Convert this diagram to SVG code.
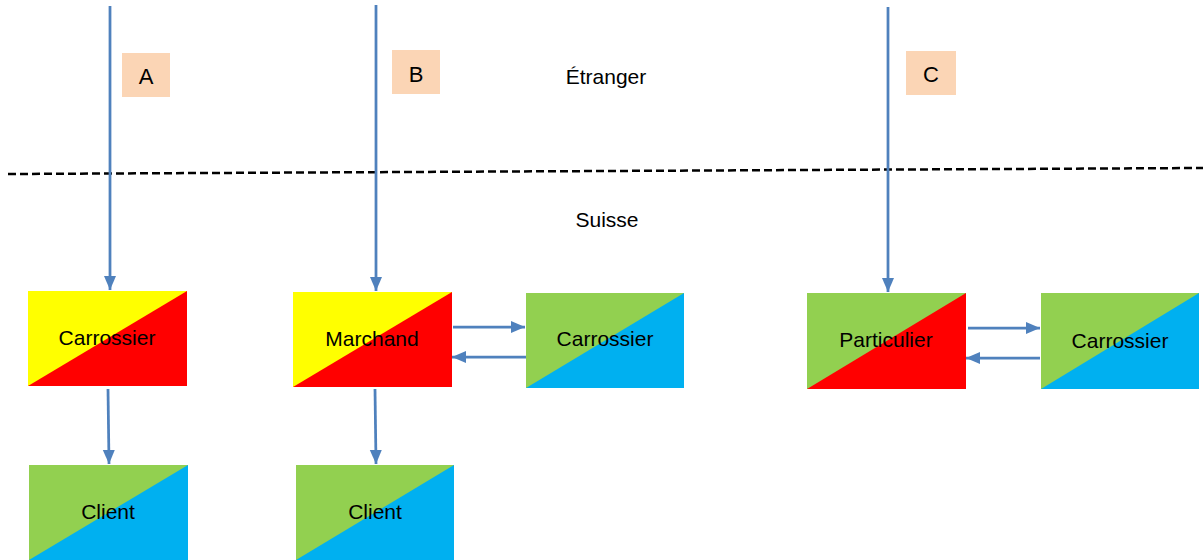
<svg xmlns="http://www.w3.org/2000/svg" width="1203" height="560" viewBox="0 0 1203 560">
<style>
.t{font-family:"Liberation Sans",Arial,sans-serif;font-size:21px;fill:#000;text-anchor:middle}
.lbl{font-family:"Liberation Sans",Arial,sans-serif;font-size:22px;fill:#000;text-anchor:middle}
.c{stroke:#4F81BD;stroke-width:2.75;fill:none}
.y{fill:#FFFF00}.r{fill:#FF0000}.g{fill:#92D050}.b{fill:#00B0F0}.p{fill:#FBD5B5}
</style>
<defs>
<marker id="ah" markerUnits="userSpaceOnUse" markerWidth="15" markerHeight="13" refX="14" refY="6.5" orient="auto">
<path d="M0,0.5 L14,6.5 L0,12.5 z" fill="#4F81BD"/>
</marker>
</defs>
<rect width="1203" height="560" fill="#fff"/>
<line x1="8" y1="174" x2="1203" y2="168" stroke="#000" stroke-width="2.5" stroke-dasharray="8,4"/>
<text class="t" x="606" y="84">Étranger</text>
<text class="t" x="607" y="227">Suisse</text>
<g id="labelA"><rect class="p" x="122" y="53" width="48" height="44"/><text class="lbl" x="146" y="84">A</text></g>
<g id="labelB"><rect class="p" x="392" y="50" width="48" height="44"/><text class="lbl" x="416" y="82">B</text></g>
<g id="labelC"><rect class="p" x="906" y="51" width="50" height="44"/><text class="lbl" x="931" y="82">C</text></g>
<g id="carrossierA"><rect class="y" x="28" y="291" width="159" height="95"/><polygon class="r" points="28,386 187,291 187,386"/><text class="t" x="107" y="345">Carrossier</text></g>
<g id="clientA"><rect class="g" x="29" y="465" width="159" height="95"/><polygon class="b" points="29,560 188,465 188,560"/><text class="t" x="108" y="519">Client</text></g>
<g id="marchand"><rect class="y" x="293" y="292" width="159" height="95"/><polygon class="r" points="293,387 452,292 452,387"/><text class="t" x="372" y="346">Marchand</text></g>
<g id="carrossierB"><rect class="g" x="526" y="293" width="158" height="95"/><polygon class="b" points="526,388 684,293 684,388"/><text class="t" x="605" y="346">Carrossier</text></g>
<g id="clientB"><rect class="g" x="296" y="465" width="158" height="95"/><polygon class="b" points="296,560 454,465 454,560"/><text class="t" x="375" y="519">Client</text></g>
<g id="particulier"><rect class="g" x="807" y="293" width="159" height="96"/><polygon class="r" points="807,389 966,293 966,389"/><text class="t" x="886" y="347">Particulier</text></g>
<g id="carrossierC"><rect class="g" x="1041" y="293" width="158" height="96"/><polygon class="b" points="1041,389 1199,293 1199,389"/><text class="t" x="1120" y="348">Carrossier</text></g>
<g id="connectors">
<line class="c" x1="110" y1="6" x2="110" y2="290" marker-end="url(#ah)"/>
<line class="c" x1="376" y1="5" x2="376" y2="291" marker-end="url(#ah)"/>
<line class="c" x1="888" y1="7" x2="888" y2="292" marker-end="url(#ah)"/>
<line class="c" x1="108" y1="389" x2="109" y2="464" marker-end="url(#ah)"/>
<line class="c" x1="375" y1="389" x2="376" y2="464" marker-end="url(#ah)"/>
<line class="c" x1="453" y1="327" x2="525" y2="327" marker-end="url(#ah)"/>
<line class="c" x1="526" y1="357" x2="452" y2="357" marker-end="url(#ah)"/>
<line class="c" x1="968" y1="328" x2="1040" y2="328" marker-end="url(#ah)"/>
<line class="c" x1="1040" y1="358" x2="966" y2="358" marker-end="url(#ah)"/>
</g>
</svg>
